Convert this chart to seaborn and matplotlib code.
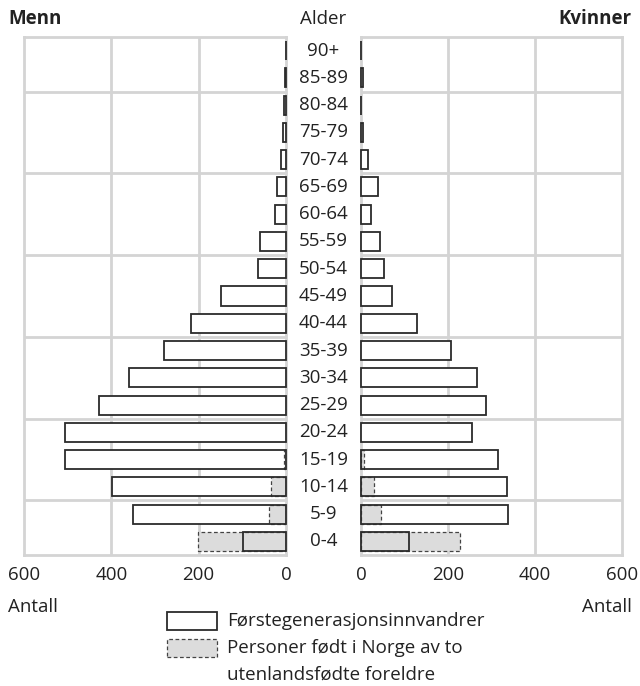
import matplotlib
matplotlib.use("Agg")
import matplotlib.pyplot as plt
import matplotlib.transforms as mtransforms
from matplotlib.patches import Rectangle
import seaborn as sns
import pandas as pd

# --- data ---
ages = ["90+", "85-89", "80-84", "75-79", "70-74", "65-69", "60-64", "55-59",
        "50-54", "45-49", "40-44", "35-39", "30-34", "25-29", "20-24", "15-19",
        "10-14", "5-9", "0-4"]
men_first = [1, 2, 5, 7, 11, 21, 25, 59, 64, 149, 218, 280, 360, 428, 506, 507, 398, 350, 98]
women_first = [1, 4, 1, 4, 15, 38, 23, 43, 53, 71, 129, 208, 267, 287, 256, 314, 335, 338, 110]
men_second = [0, 0, 0, 0, 0, 0, 0, 0, 0, 0, 0, 0, 0, 0, 0, 4, 35, 38, 201]
women_second = [0, 0, 0, 0, 0, 0, 0, 0, 0, 0, 0, 0, 0, 0, 0, 6, 31, 45, 227]
xticks = [0, 200, 400, 600]

sns.set_style("white")
plt.rcParams['font.family'] = ['Open Sans', 'DejaVu Sans']

GRID = "#d4d4d4"
EDGE = "#2b2b2b"
GRAY = "#dcdcdc"
TXT = "#222222"
FS = 13.5

fig = plt.figure(figsize=(6.4, 6.86), dpi=100)
ax_m = fig.add_axes([24 / 640, 131 / 686, 262 / 640, 518 / 686])
ax_k = fig.add_axes([361 / 640, 131 / 686, 261 / 640, 518 / 686])


def draw_side(ax, first, second):
    df = pd.DataFrame({"age": ages, "first": first, "second": second})
    # white background of first generation bars
    sns.barplot(data=df, x="first", y="age", orient="h", color="white",
                width=0.7, errorbar=None, ax=ax)
    for p in ax.containers[-1]:
        p.set_edgecolor("none")
        p.set_zorder(3)
    # second generation: grey with dashed outline
    sns.barplot(data=df, x="second", y="age", orient="h", color=GRAY,
                width=0.7, errorbar=None, ax=ax)
    for p, v in zip(ax.containers[-1], second):
        p.set_facecolor(GRAY)
        p.set_edgecolor("#444444")
        p.set_linestyle((0, (3, 2)))
        p.set_linewidth(0.9)
        p.set_zorder(4)
        p.set_visible(v > 0)
    # first generation outline on top
    sns.barplot(data=df, x="first", y="age", orient="h", color="white",
                width=0.7, errorbar=None, ax=ax)
    for p in ax.containers[-1]:
        p.set_facecolor("none")
        p.set_edgecolor(EDGE)
        p.set_linewidth(1.3)
        p.set_zorder(5)
        p.set_clip_on(False)

    ax.set_ylim(len(ages) - 0.5, -0.5)
    ax.set_yticks([])
    ax.set_xticks(xticks)
    ax.set_xticklabels([str(t) for t in xticks])
    ax.tick_params(axis="x", length=0, pad=8, labelsize=FS, labelcolor=TXT)
    ax.set_xlabel("")
    ax.set_ylabel("")
    for v in (200, 400):
        ax.axvline(v, color=GRID, lw=2.0, zorder=0)
    for b in range(1, len(ages) - 1, 3):
        ax.axhline(b + 0.5, color=GRID, lw=2.0, zorder=0)
    for s in ax.spines.values():
        s.set_visible(True)
        s.set_color(GRID)
        s.set_linewidth(2.0)


draw_side(ax_m, men_first, men_second)
ax_m.set_xlim(600, 0)
draw_side(ax_k, women_first, women_second)
ax_k.set_xlim(0, 600)

# age labels between the two panels
trans = mtransforms.blended_transform_factory(fig.transFigure, ax_m.transData)
for i, a in enumerate(ages):
    ax_m.text(323.5 / 640, i, a, transform=trans, ha="center", va="center",
              fontsize=FS, color=TXT, clip_on=False)

# headers
fig.text(8 / 640, 1 - 19 / 686, "Menn", ha="left", va="center", fontsize=FS,
         fontweight="bold", color=TXT)
fig.text(323.5 / 640, 1 - 19 / 686, "Alder", ha="center", va="center", fontsize=FS,
         color=TXT)
fig.text(632 / 640, 1 - 19 / 686, "Kvinner", ha="right", va="center", fontsize=FS,
         fontweight="bold", color=TXT)
fig.text(8 / 640, 1 - 607 / 686, "Antall", ha="left", va="center", fontsize=FS,
         color=TXT)
fig.text(632 / 640, 1 - 607 / 686, "Antall", ha="right", va="center", fontsize=FS,
         color=TXT)

# legend
fig.add_artist(Rectangle((167 / 640, 1 - 630 / 686), 50 / 640, 18 / 686,
                         transform=fig.transFigure, facecolor="white",
                         edgecolor=EDGE, lw=1.3))
fig.text(227 / 640, 1 - 621 / 686, "Førstegenerasjonsinnvandrer", ha="left",
         va="center", fontsize=FS, color=TXT)
fig.add_artist(Rectangle((167 / 640, 1 - 657 / 686), 50 / 640, 18 / 686,
                         transform=fig.transFigure, facecolor=GRAY,
                         edgecolor="#444444", lw=0.9, linestyle=(0, (3, 2))))
fig.text(227 / 640, 1 - 648 / 686, "Personer født i Norge av to", ha="left",
         va="center", fontsize=FS, color=TXT)
fig.text(227 / 640, 1 - 675 / 686, "utenlandsfødte foreldre", ha="left",
         va="center", fontsize=FS, color=TXT)

plt.savefig("out.png", dpi=100)
